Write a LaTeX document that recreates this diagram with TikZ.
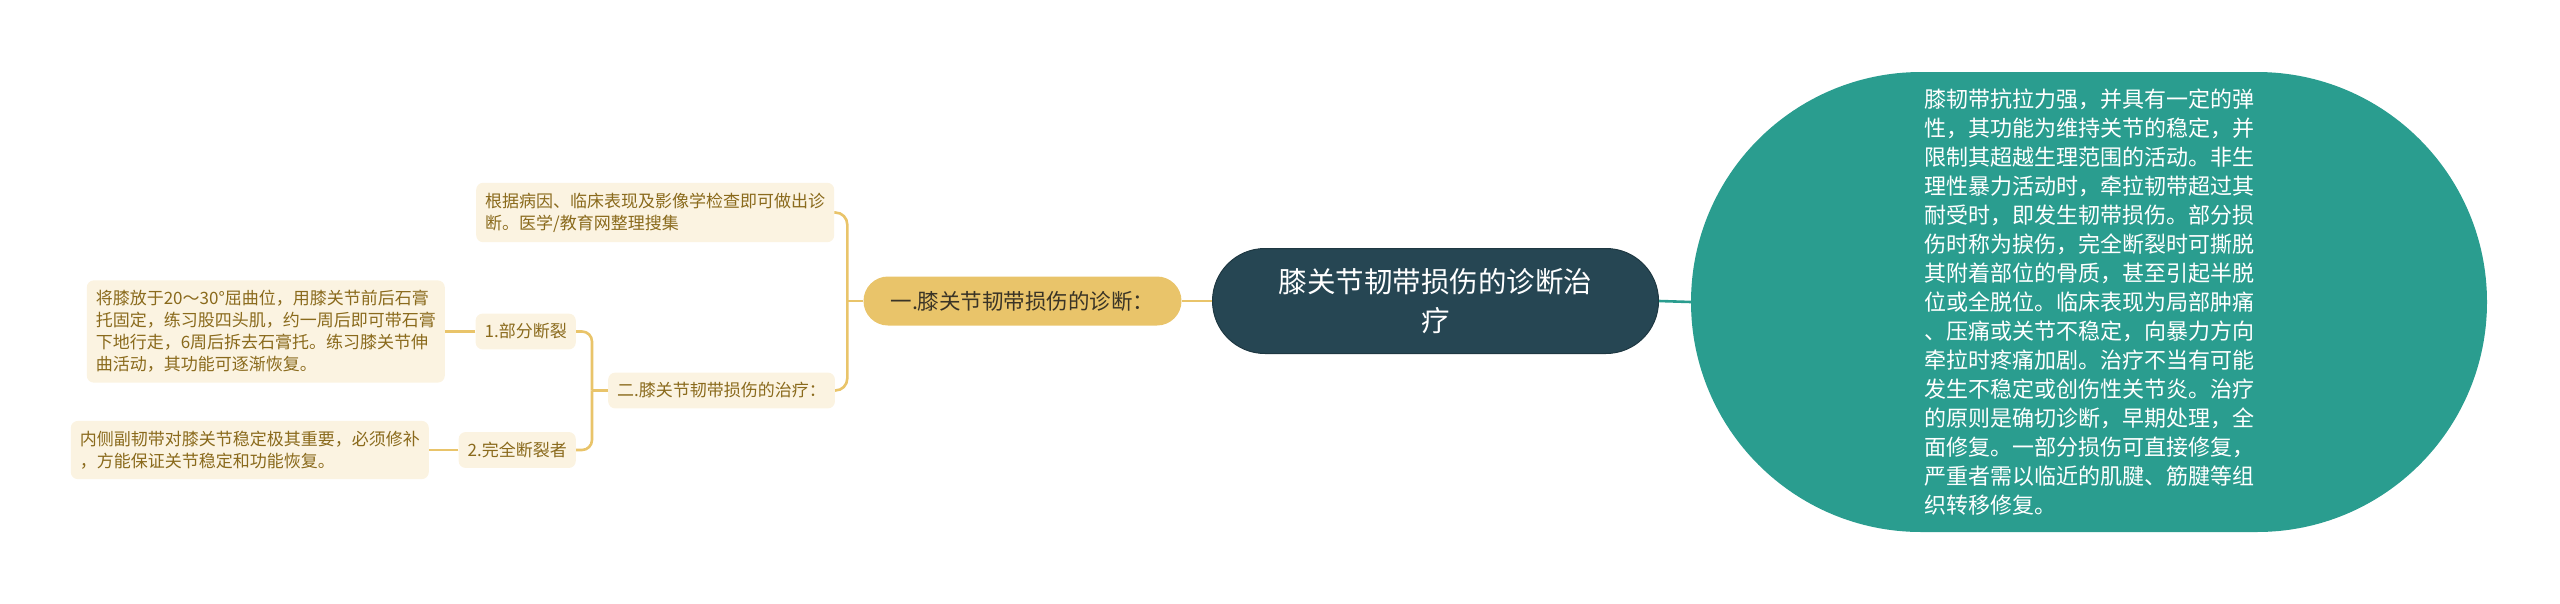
\documentclass[tikz,border=0pt]{standalone}
\usepackage{fontspec}
\setmainfont{Noto Sans CJK SC}
\usepackage{tikz}
\definecolor{rootdark}{HTML}{264653}
\definecolor{tealbig}{HTML}{2A9D8F}
\definecolor{goldpill}{HTML}{E9C46A}
\definecolor{leafcream}{HTML}{FBF3E1}
\definecolor{leaftext}{HTML}{8A6A1C}
\definecolor{pilltext}{HTML}{3A3426}

\begin{document}
\begin{tikzpicture}[x=1pt,y=-1pt,
        leaf/.style={fill=leafcream,rounded corners=7pt,inner xsep=9pt,inner ysep=10pt,align=left,text=leaftext,font=\fontsize{17}{22}\selectfont},
        goldlink/.style={draw=goldpill,line width=2.6pt},
        ]
        \useasboundingbox (0,0) rectangle (2560,603);
        % centre and the big right note
        \node[fill=rootdark,draw=rootdark!80!black,line width=1pt,rounded corners=52.5pt,minimum width=446pt,minimum height=105pt,align=center,text=white,font=\fontsize{28.5}{39}\selectfont] (root) at (1435.5,301) {膝关节韧带损伤的诊断治\\疗};
        \node[fill=tealbig,rounded corners=230pt,inner sep=0pt,minimum width=796pt,minimum height=460pt,align=left,text=white,font=\fontsize{22}{29}\selectfont] (note) at (2089,302) {膝韧带抗拉力强，并具有一定的弹\\性，其功能为维持关节的稳定，并\\限制其超越生理范围的活动。非生\\理性暴力活动时，牵拉韧带超过其\\耐受时，即发生韧带损伤。部分损\\伤时称为捩伤，完全断裂时可撕脱\\其附着部位的骨质，甚至引起半脱\\位或全脱位。临床表现为局部肿痛\\、压痛或关节不稳定，向暴力方向\\牵拉时疼痛加剧。治疗不当有可能\\发生不稳定或创伤性关节炎。治疗\\的原则是确切诊断，早期处理，全\\面修复。一部分损伤可直接修复，\\严重者需以临近的肌腱、筋腱等组\\织转移修复。};
        \node[fill=goldpill,rounded corners=24.5pt,minimum width=318pt,minimum height=49pt,text=pilltext,font=\fontsize{21.5}{26}\selectfont] (diagpill) at (1022.5,301) {一.膝关节韧带损伤的诊断：};
        % left branches
        \node[leaf,anchor=west] (diagleaf) at (476,212.5) {根据病因、临床表现及影像学检查即可做出诊\\断。医学/教育网整理搜集};
        \node[leaf,anchor=west] (treat) at (608,390.5) {二.膝关节韧带损伤的治疗：};
        \node[leaf,anchor=east] (part) at (576,331.5) {1.部分断裂};
        \node[leaf,anchor=east] (full) at (576,450) {2.完全断裂者};
        \node[leaf,anchor=east] (partdesc) at (445,331.5) {将膝放于20～30°屈曲位，用膝关节前后石膏\\托固定，练习股四头肌，约一周后即可带石膏\\下地行走，6周后拆去石膏托。练习膝关节伸\\曲活动，其功能可逐渐恢复。};
        \node[leaf,anchor=east] (fulldesc) at (429,450) {内侧副韧带对膝关节稳定极其重要，必须修补\\，方能保证关节稳定和功能恢复。};
        % connectors
        \draw[draw=tealbig,line width=2.6pt] (root.east) -- (note.west);
        \draw[goldlink] (root.west) -- (diagpill.east);
        \draw[goldlink] (diagpill.west) -- ++(-16,0) coordinate (j1);
        \draw[goldlink,rounded corners=12pt] (j1) |- (diagleaf.east);
        \draw[goldlink,rounded corners=12pt] (j1) |- (treat.east);
        \draw[goldlink] (treat.west) -- ++(-16,0) coordinate (j2);
        \draw[goldlink,rounded corners=10pt] (j2) |- (part.east);
        \draw[goldlink,rounded corners=10pt] (j2) |- (full.east);
        \draw[goldlink] (part.west) -- (partdesc.east);
        \draw[goldlink] (full.west) -- (fulldesc.east);
    \end{tikzpicture}
\end{document}
